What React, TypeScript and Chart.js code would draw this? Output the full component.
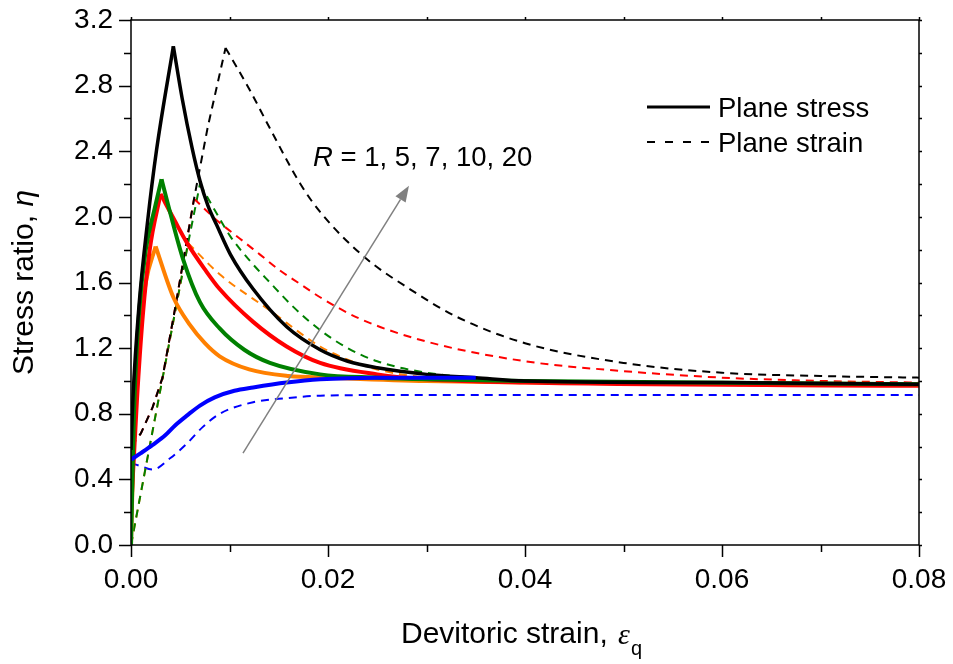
import React, { useEffect, useRef } from 'react';
import { Chart, registerables } from 'chart.js';
Chart.register(...registerables);

type Pt = [number, number];

const FONT = '"Liberation Sans", Arial, sans-serif';

// axis ticks
const xMajor = [0, 0.02, 0.04, 0.06, 0.08];
const xMinor = [0.01, 0.03, 0.05, 0.07];
const yMajor = [0, 0.4, 0.8, 1.2, 1.6, 2.0, 2.4, 2.8, 3.2];
const yMinor = [0.2, 0.6, 1.0, 1.4, 1.8, 2.2, 2.6, 3.0];

// Plane stress (solid)
const stressR1: Pt[] = [[0, 0.52], [0.001, 0.56], [0.0022, 0.61], [0.0035, 0.67], [0.0045, 0.73], [0.0057, 0.79], [0.007, 0.85], [0.0085, 0.9], [0.0105, 0.94], [0.0124, 0.96], [0.0158, 0.99], [0.0192, 1.01], [0.025, 1.02], [0.035, 1.02]];
const stressR5: Pt[] = [[0, 0], [0.0003, 0.7], [0.0008, 1.25], [0.0015, 1.6], [0.0025, 1.82], [0.0043, 1.51], [0.006, 1.34], [0.0075, 1.23], [0.009, 1.15], [0.012, 1.07], [0.016, 1.03], [0.02, 1.02], [0.03, 1.0], [0.08, 0.98]];
const stressR7: Pt[] = [[0, 0], [0.0003, 0.8], [0.0008, 1.4], [0.0015, 1.8], [0.0024, 2.05], [0.0031, 2.23], [0.004, 2.02], [0.0053, 1.74], [0.007, 1.48], [0.009, 1.32], [0.0115, 1.19], [0.0141, 1.11], [0.0192, 1.04], [0.025, 1.02], [0.03, 1.01], [0.04, 1.0], [0.08, 0.98]];
const stressR10: Pt[] = [[0, 0.2], [0.0006, 0.88], [0.0012, 1.4], [0.0019, 1.8], [0.003, 2.14], [0.0045, 1.97], [0.0057, 1.84], [0.0075, 1.68], [0.009, 1.56], [0.0124, 1.36], [0.0158, 1.21], [0.0192, 1.11], [0.025, 1.04], [0.03, 1.01], [0.04, 0.99], [0.08, 0.97]];
const stressR20: Pt[] = [[0, 0.58], [0.0002, 0.9], [0.0008, 1.45], [0.0017, 1.98], [0.0026, 2.41], [0.0043, 3.04], [0.0052, 2.72], [0.0062, 2.42], [0.007, 2.22], [0.0078, 2.07], [0.0087, 1.95], [0.0101, 1.77], [0.0124, 1.56], [0.0158, 1.33], [0.0192, 1.19], [0.022, 1.12], [0.025, 1.08], [0.03, 1.04], [0.035, 1.02], [0.04, 1.0], [0.06, 0.99], [0.08, 0.98]];

// Plane strain (dashed)
const strainR1: Pt[] = [[0, 0.5], [0.001, 0.48], [0.0022, 0.46], [0.004, 0.53], [0.0057, 0.62], [0.0073, 0.72], [0.009, 0.8], [0.0124, 0.87], [0.0158, 0.895], [0.0192, 0.91], [0.03, 0.915], [0.08, 0.915]];
const strainR5: Pt[] = [[0, 0], [0.0058, 1.84], [0.009, 1.65], [0.0141, 1.43], [0.0192, 1.21], [0.022, 1.13], [0.025, 1.07], [0.03, 1.02], [0.04, 0.99], [0.08, 0.97]];
const strainR7: Pt[] = [[0, 0], [0.0058, 1.84], [0.007, 2.2], [0.0087, 2.02], [0.0101, 1.88], [0.0121, 1.73], [0.0141, 1.6], [0.0165, 1.45], [0.0192, 1.31], [0.022, 1.2], [0.025, 1.12], [0.03, 1.05], [0.035, 1.02], [0.04, 1.0], [0.08, 0.98]];
const strainR10: Pt[] = [[0, 0.6], [0.001, 0.68], [0.0022, 0.84], [0.0032, 1.02], [0.0045, 1.45], [0.0064, 2.11], [0.0087, 1.98], [0.011, 1.87], [0.0131, 1.77], [0.0152, 1.67], [0.0172, 1.59], [0.0192, 1.51], [0.0232, 1.38], [0.03, 1.24], [0.04, 1.12], [0.05, 1.06], [0.06, 1.02], [0.07, 1.0], [0.08, 0.99]];
const strainR20: Pt[] = [[0, 0.6], [0.001, 0.68], [0.0022, 0.84], [0.0032, 1.02], [0.0045, 1.45], [0.0064, 2.11], [0.0078, 2.55], [0.0096, 3.03], [0.012, 2.78], [0.0141, 2.54], [0.0172, 2.2], [0.0192, 2.03], [0.0236, 1.76], [0.0283, 1.56], [0.0331, 1.39], [0.04, 1.23], [0.05, 1.11], [0.06, 1.05], [0.07, 1.03], [0.08, 1.02]];

// arrow (data coords) and annotation
const arrowFrom: Pt = [0.01137, 0.56];
const arrowTo: Pt = [0.02822, 2.19];
const annotationText = ' = 1, 5, 7, 10, 20';
const legendLabels = ['Plane stress', 'Plane strain'];

const BLUE = '#0000ff';
const ORANGE = '#ff8000';
const GREEN = '#008000';
const RED = '#ff0000';
const BLACK = '#000000';

// painting order (first = bottom)
const series = [
  { data: strainR1, color: BLUE, dashed: true },
  { data: strainR5, color: ORANGE, dashed: true },
  { data: strainR7, color: GREEN, dashed: true },
  { data: strainR10, color: RED, dashed: true },
  { data: strainR20, color: BLACK, dashed: true },
  { data: stressR5, color: ORANGE, dashed: false },
  { data: stressR10, color: RED, dashed: false },
  { data: stressR7, color: GREEN, dashed: false },
  { data: stressR20, color: BLACK, dashed: false },
  { data: stressR1, color: BLUE, dashed: false },
];

function peakIndex(d: Pt[]): number {
  let m = 0;
  for (let i = 1; i < d.length; i++) if (d[i][1] > d[m][1]) m = i;
  if (m === 0 || m === d.length - 1) return -1;
  if (d[m][1] - d[d.length - 1][1] < 0.15) return -1;
  return m;
}

function buildDatasets() {
  const out: any[] = [];
  for (const s of series) {
    const p = peakIndex(s.data);
    const parts = p < 0 ? [s.data] : [s.data.slice(0, p + 1), s.data.slice(p)];
    parts.forEach((part, i) => {
      const straight = s.dashed && p >= 0 && i === 0;
      out.push({
        data: part.map(([x, y]) => ({ x, y })),
        borderColor: s.color,
        backgroundColor: s.color,
        borderWidth: s.dashed ? 2 : (s.color === BLACK ? 3.5 : 4),
        borderDash: s.dashed ? [8, 6] : [],
        pointRadius: 0,
        fill: false,
        tension: straight ? 0 : 0.4,
        cubicInterpolationMode: straight ? 'default' : 'monotone',
      });
    });
  }
  // Chart.js paints dataset 0 last (on top), so reverse
  return out.reverse();
}

const decorPlugin = {
  id: 'decor',
  afterDraw(chart: any) {
    const ctx = chart.ctx as CanvasRenderingContext2D;
    const { left, right, top, bottom } = chart.chartArea;
    const xs = chart.scales.x;
    const ys = chart.scales.y;
    ctx.save();
    ctx.strokeStyle = '#000';
    ctx.lineWidth = 1.5;
    ctx.setLineDash([]);
    ctx.strokeRect(left, top, right - left, bottom - top);
    ctx.beginPath();
    for (const v of xMajor) {
      const px = Math.round(xs.getPixelForValue(v)) + 0.5;
      ctx.moveTo(px, bottom); ctx.lineTo(px, bottom + 12);
      ctx.moveTo(px, top); ctx.lineTo(px, top - 3);
    }
    for (const v of xMinor) {
      const px = Math.round(xs.getPixelForValue(v)) + 0.5;
      ctx.moveTo(px, bottom); ctx.lineTo(px, bottom + 7);
      ctx.moveTo(px, top); ctx.lineTo(px, top - 3);
    }
    for (const v of yMajor) {
      const py = Math.round(ys.getPixelForValue(v)) + 0.5;
      ctx.moveTo(left, py); ctx.lineTo(left - 12, py);
      ctx.moveTo(right, py); ctx.lineTo(right + 3, py);
    }
    for (const v of yMinor) {
      const py = Math.round(ys.getPixelForValue(v)) + 0.5;
      ctx.moveTo(left, py); ctx.lineTo(left - 7, py);
      ctx.moveTo(right, py); ctx.lineTo(right + 3, py);
    }
    ctx.stroke();

    ctx.fillStyle = '#000';
    ctx.textAlign = 'left';
    ctx.textBaseline = 'alphabetic';

    // x title
    ctx.font = `30px ${FONT}`;
    const xt = 'Devitoric strain, ';
    ctx.fillText(xt, 401, 643);
    let w = ctx.measureText(xt).width;
    ctx.font = `italic 30px "Liberation Serif", serif`;
    ctx.fillText('\u03b5', 401 + w + 2, 644);
    const we = ctx.measureText('\u03b5').width;
    ctx.font = `20px ${FONT}`;
    ctx.fillText('q', 401 + w + 2 + we + 1, 655);

    // y title
    ctx.save();
    ctx.translate(33, 375);
    ctx.rotate(-Math.PI / 2);
    ctx.font = `30px ${FONT}`;
    const yt = 'Stress ratio, ';
    ctx.fillText(yt, 0, 0);
    w = ctx.measureText(yt).width;
    ctx.font = `italic 30px ${FONT}`;
    ctx.fillText('\u03b7', w, 0);
    ctx.restore();

    // legend
    ctx.lineWidth = 3;
    ctx.beginPath();
    ctx.moveTo(647, 107); ctx.lineTo(710, 107);
    ctx.stroke();
    ctx.lineWidth = 2;
    ctx.setLineDash([8, 10]);
    ctx.beginPath();
    ctx.moveTo(647, 142); ctx.lineTo(711, 142);
    ctx.stroke();
    ctx.setLineDash([]);
    ctx.font = `27.5px ${FONT}`;
    ctx.fillText(legendLabels[0], 718, 117);
    ctx.fillText(legendLabels[1], 718, 152);

    // annotation
    ctx.font = `italic 27.5px ${FONT}`;
    ctx.fillText('R', 313, 166);
    const wr = ctx.measureText('R').width;
    ctx.font = `27.5px ${FONT}`;
    ctx.fillText(annotationText, 313 + wr, 166);

    // arrow
    const x0 = xs.getPixelForValue(arrowFrom[0]);
    const y0 = ys.getPixelForValue(arrowFrom[1]);
    const x1 = xs.getPixelForValue(arrowTo[0]);
    const y1 = ys.getPixelForValue(arrowTo[1]);
    const ang = Math.atan2(y1 - y0, x1 - x0);
    const hl = 16, hw = 6;
    const bx = x1 - hl * Math.cos(ang);
    const by = y1 - hl * Math.sin(ang);
    ctx.strokeStyle = '#808080';
    ctx.fillStyle = '#808080';
    ctx.lineWidth = 1.5;
    ctx.beginPath();
    ctx.moveTo(x0, y0); ctx.lineTo(bx, by);
    ctx.stroke();
    ctx.beginPath();
    ctx.moveTo(x1, y1);
    ctx.lineTo(bx + hw * Math.sin(ang), by - hw * Math.cos(ang));
    ctx.lineTo(bx - hw * Math.sin(ang), by + hw * Math.cos(ang));
    ctx.closePath();
    ctx.fill();
    ctx.restore();
  },
};

export default function App() {
  const ref = useRef<HTMLCanvasElement | null>(null);
  useEffect(() => {
    document.body.style.margin = '0';
    const canvas = ref.current!;
    const chart = new Chart(canvas, {
      type: 'line',
      data: { datasets: buildDatasets() },
      options: {
        animation: false,
        responsive: false,
        devicePixelRatio: 1,
        layout: { padding: { top: 20, right: 34, left: 0, bottom: 0 } },
        plugins: { legend: { display: false }, tooltip: { enabled: false } },
        scales: {
          x: {
            type: 'linear',
            position: 'bottom',
            min: 0,
            max: 0.08,
            grid: { display: false, drawTicks: false },
            border: { display: false },
            afterFit: (s: any) => { s.height = 119; s.paddingLeft = 0; s.paddingRight = 0; },
            afterBuildTicks: (s: any) => { s.ticks = xMajor.map((v) => ({ value: v })); },
            ticks: {
              autoSkip: false,
              maxRotation: 0,
              padding: 18,
              color: '#000',
              font: { family: FONT, size: 28 },
              callback: (v: any) => Number(v).toFixed(2),
            },
          },
          y: {
            type: 'linear',
            position: 'left',
            min: 0,
            max: 3.2,
            grid: { display: false, drawTicks: false },
            border: { display: false },
            afterFit: (s: any) => { s.width = 131; s.paddingTop = 0; s.paddingBottom = 0; },
            afterBuildTicks: (s: any) => { s.ticks = yMajor.map((v) => ({ value: v })); },
            ticks: {
              autoSkip: false,
              padding: 18,
              color: '#000',
              font: { family: FONT, size: 28 },
              callback: (v: any) => Number(v).toFixed(1),
            },
          },
        },
      } as any,
      plugins: [decorPlugin],
    });
    return () => chart.destroy();
  }, []);
  return (
    <div style={{ width: 953, height: 664, background: '#fff' }}>
      <canvas ref={ref} width={953} height={664} style={{ display: 'block' }} />
    </div>
  );
}
